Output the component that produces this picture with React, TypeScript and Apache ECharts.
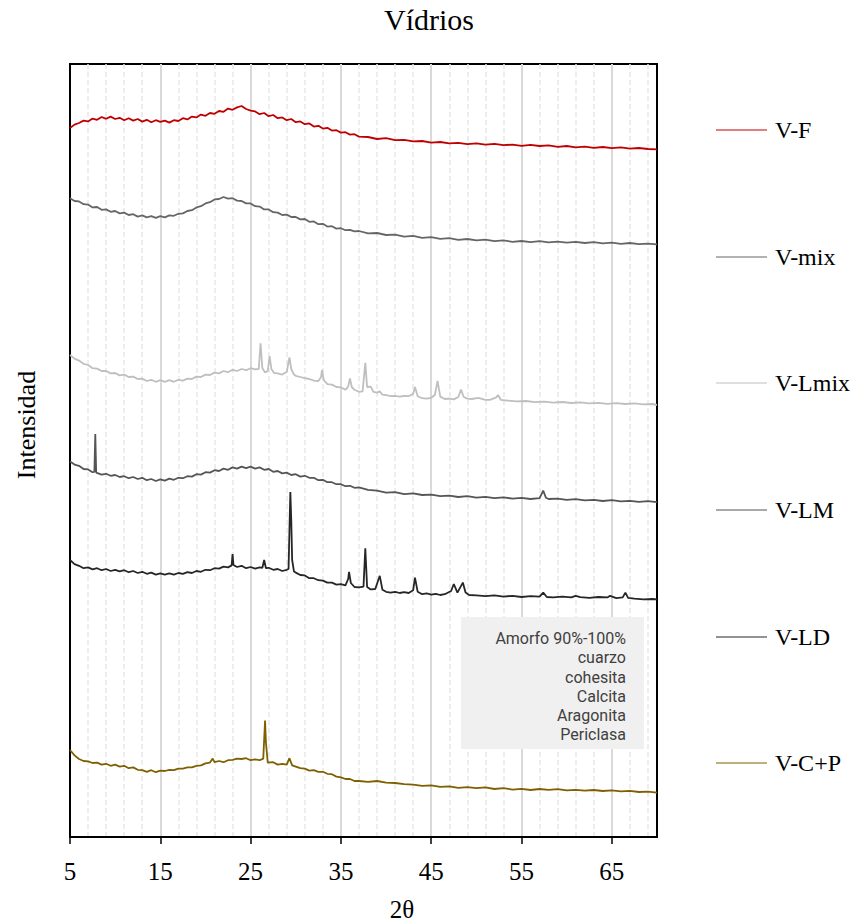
import React, { useEffect, useRef } from "react";
import * as echarts from "echarts";

// Diffractograms (2θ, counts), stacked with a vertical offset per sample
const SERIES_NAMES = ["V-F", "V-mix", "V-Lmix", "V-LM", "V-LD", "V-C+P"];
const SERIES_COLORS = ["#c00000", "#666666", "#bfbfbf", "#555555", "#262626", "#7f6000"];

const vF: [number, number][] = [
  [5, 3545], [5.5, 3562], [6, 3570], [6.5, 3582], [7, 3578], [7.5, 3592], [8, 3586], [8.5, 3600], [9, 3591], [9.5, 3602],
  [10, 3590], [10.5, 3596], [11, 3584], [11.5, 3594], [12, 3582], [12.5, 3590], [13, 3577], [13.5, 3586], [14, 3574], [14.5, 3584],
  [15, 3576], [15.5, 3582], [16, 3572], [16.5, 3584], [17, 3580], [17.5, 3594], [18, 3588], [18.5, 3602], [19, 3598], [19.5, 3612],
  [20, 3606], [20.5, 3620], [21, 3616], [21.5, 3630], [22, 3626], [22.5, 3642], [23, 3636], [23.5, 3648], [24, 3655], [24.5, 3640],
  [25, 3632], [25.5, 3628], [26, 3614], [26.5, 3620], [27, 3604], [27.5, 3610], [28, 3594], [28.5, 3598], [29, 3584], [29.5, 3590],
  [30, 3574], [30.5, 3578], [31, 3564], [31.5, 3568], [32, 3552], [32.5, 3556], [33, 3542], [33.5, 3546], [34, 3532], [34.5, 3534],
  [35, 3522], [35.5, 3524], [36, 3512], [36.5, 3514], [37, 3502], [38, 3500], [39, 3490], [40, 3494], [41, 3484], [42, 3486],
  [43, 3478], [44, 3480], [45, 3472], [46, 3475], [47, 3468], [48, 3471], [49, 3464], [50, 3468], [51, 3462], [52, 3466],
  [53, 3459], [54, 3462], [55, 3456], [56, 3461], [57, 3455], [58, 3458], [59, 3451], [60, 3455], [61, 3448], [62, 3452],
  [63, 3446], [64, 3450], [65, 3444], [66, 3448], [67, 3442], [68, 3445], [69, 3440], [70, 3438],
];

const vMix: [number, number][] = [
  [5, 3194], [5.5, 3180], [6, 3178], [6.5, 3164], [7, 3162], [7.5, 3148], [8, 3150], [8.5, 3136], [9, 3138], [9.5, 3126],
  [10, 3130], [10.5, 3118], [11, 3122], [11.5, 3110], [12, 3114], [12.5, 3102], [13, 3108], [13.5, 3098], [14, 3104], [14.5, 3096],
  [15, 3104], [15.5, 3098], [16, 3108], [16.5, 3106], [17, 3116], [17.5, 3118], [18, 3130], [18.5, 3134], [19, 3148], [19.5, 3154],
  [20, 3168], [20.5, 3174], [21, 3188], [21.5, 3190], [22, 3200], [22.5, 3192], [23, 3194], [23.5, 3182], [24, 3180], [24.5, 3168],
  [25, 3168], [25.5, 3154], [26, 3152], [26.5, 3138], [27, 3138], [27.5, 3124], [28, 3122], [28.5, 3110], [29, 3112], [29.5, 3100],
  [30, 3100], [30.5, 3088], [31, 3090], [31.5, 3076], [32, 3078], [32.5, 3064], [33, 3066], [33.5, 3052], [34, 3054], [34.5, 3042],
  [35, 3044], [35.5, 3034], [36, 3036], [36.5, 3028], [37, 3030], [38, 3018], [39, 3020], [40, 3010], [41, 3012], [42, 3002],
  [43, 3006], [44, 2996], [45, 2999], [46, 2991], [47, 2994], [48, 2986], [49, 2990], [50, 2983], [51, 2987], [52, 2979],
  [53, 2983], [54, 2976], [55, 2980], [56, 2974], [57, 2979], [58, 2973], [59, 2977], [60, 2972], [61, 2976], [62, 2970],
  [63, 2974], [64, 2968], [65, 2972], [66, 2966], [67, 2970], [68, 2964], [69, 2967], [70, 2963],
];

const vLmix: [number, number][] = [
  [5, 2410], [5.5, 2392], [6, 2382], [6.5, 2366], [7, 2360], [7.5, 2344], [8, 2342], [8.5, 2330], [9, 2330], [9.5, 2318],
  [10, 2320], [10.5, 2308], [11, 2312], [11.5, 2300], [12, 2302], [12.5, 2290], [13, 2292], [13.5, 2280], [14, 2286], [14.5, 2276],
  [15, 2284], [15.5, 2276], [16, 2284], [16.5, 2276], [17, 2286], [17.5, 2282], [18, 2292], [18.5, 2290], [19, 2302], [19.5, 2300],
  [20, 2312], [20.5, 2310], [21, 2322], [21.5, 2318], [22, 2330], [22.5, 2324], [23, 2336], [23.5, 2330], [24, 2340], [24.5, 2334],
  [25, 2344], [25.5, 2338], [25.9, 2340], [26.1, 2468], [26.3, 2345], [26.6, 2322], [26.9, 2330], [27.1, 2405], [27.3, 2340], [27.6, 2320],
  [28, 2318], [28.5, 2312], [29, 2326], [29.3, 2398], [29.5, 2340], [29.8, 2312], [30, 2306], [30.5, 2300], [31, 2294], [31.5, 2290],
  [32, 2282], [32.5, 2280], [32.8, 2300], [32.9, 2335], [33.1, 2285], [33.5, 2264], [34, 2262], [34.5, 2250], [35, 2248], [35.5, 2236],
  [35.8, 2252], [36, 2293], [36.2, 2250], [36.5, 2236], [37, 2226], [37.4, 2228], [37.7, 2371], [37.9, 2250], [38.3, 2252], [38.6, 2226],
  [39, 2222], [39.3, 2228], [39.6, 2212], [40, 2210], [40.5, 2204], [41, 2206], [41.5, 2202], [42, 2206], [42.5, 2204], [43, 2216],
  [43.2, 2250], [43.5, 2204], [44, 2194], [44.5, 2192], [45, 2196], [45.4, 2210], [45.7, 2280], [46, 2202], [46.5, 2190], [47, 2192],
  [47.5, 2188], [48, 2200], [48.3, 2237], [48.6, 2200], [49, 2192], [49.5, 2190], [50.2, 2196], [51, 2186], [51.5, 2186], [52.2, 2198],
  [52.4, 2210], [52.7, 2186], [53.5, 2182], [54.5, 2178], [55.5, 2180], [56.5, 2174], [57.5, 2177], [58.5, 2172], [59.5, 2175], [60.5, 2170],
  [61.5, 2173], [62.5, 2168], [63.5, 2171], [64.5, 2166], [65.5, 2169], [66.5, 2165], [67.5, 2168], [68.5, 2163], [69.5, 2165], [70, 2160],
];

const vLM: [number, number][] = [
  [5, 1877], [5.5, 1862], [6, 1856], [6.5, 1840], [7, 1838], [7.5, 1824], [7.7, 1826], [7.8, 2015], [7.9, 1822], [8.5, 1812],
  [9, 1816], [9.5, 1806], [10, 1810], [10.5, 1800], [11, 1804], [11.5, 1794], [12, 1800], [12.5, 1790], [13, 1796], [13.5, 1784],
  [14, 1790], [14.5, 1780], [15, 1788], [15.5, 1782], [16, 1792], [16.5, 1786], [17, 1796], [17.5, 1794], [18, 1804], [18.5, 1802],
  [19, 1814], [19.5, 1812], [20, 1824], [20.5, 1822], [21, 1834], [21.5, 1830], [22, 1842], [22.5, 1836], [23, 1848], [23.5, 1842],
  [24, 1852], [24.5, 1844], [25, 1852], [25.5, 1842], [26, 1848], [26.5, 1836], [27, 1840], [27.5, 1826], [28, 1830], [28.5, 1818],
  [29, 1822], [29.5, 1810], [30, 1814], [30.5, 1802], [31, 1806], [31.5, 1796], [32, 1796], [32.5, 1784], [33, 1786], [33.5, 1774],
  [34, 1774], [34.5, 1764], [35, 1764], [35.5, 1754], [36, 1756], [36.5, 1746], [37, 1748], [38, 1736], [39, 1732], [40, 1722],
  [41, 1724], [42, 1714], [43, 1718], [44, 1710], [45, 1712], [46, 1704], [47, 1707], [48, 1700], [49, 1704], [50, 1697],
  [51, 1701], [52, 1694], [53, 1698], [54, 1692], [55, 1696], [56, 1690], [57, 1694], [57.4, 1732], [57.7, 1696], [58, 1690],
  [59, 1692], [60, 1686], [61, 1689], [62, 1683], [63, 1686], [64, 1680], [65, 1684], [66, 1678], [67, 1681], [68, 1676],
  [69, 1679], [70, 1674],
];

const vLD: [number, number][] = [
  [5, 1385], [5.5, 1364], [6, 1356], [6.5, 1344], [7, 1348], [7.5, 1338], [8, 1344], [8.5, 1334], [9, 1340], [9.5, 1330],
  [10, 1336], [10.5, 1328], [11, 1334], [11.5, 1324], [12, 1330], [12.5, 1320], [13, 1326], [13.5, 1316], [14, 1322], [14.5, 1312],
  [15, 1318], [15.5, 1312], [16, 1318], [16.5, 1312], [17, 1320], [17.5, 1316], [18, 1324], [18.5, 1320], [19, 1330], [19.5, 1326],
  [20, 1336], [20.5, 1334], [21, 1344], [21.5, 1342], [22, 1352], [22.5, 1348], [22.9, 1358], [23, 1415], [23.1, 1360], [23.5, 1350],
  [24, 1356], [24.5, 1344], [25, 1350], [25.5, 1342], [26, 1348], [26.3, 1346], [26.5, 1385], [26.7, 1344], [27, 1346], [27.5, 1336],
  [28, 1340], [28.5, 1330], [29, 1336], [29.2, 1340], [29.3, 1535], [29.4, 1725], [29.5, 1585], [29.6, 1385], [29.8, 1328], [30, 1322],
  [30.5, 1310], [31, 1308], [31.5, 1294], [32, 1294], [32.5, 1284], [33, 1282], [33.5, 1272], [34, 1272], [34.5, 1262], [35, 1264],
  [35.5, 1258], [35.8, 1290], [35.9, 1326], [36.1, 1270], [36.5, 1250], [37, 1248], [37.5, 1252], [37.7, 1443], [37.9, 1250], [38.3, 1238],
  [38.8, 1240], [39.3, 1306], [39.6, 1236], [40, 1226], [40.5, 1222], [41, 1226], [41.5, 1220], [42, 1224], [42.5, 1220], [43, 1234],
  [43.2, 1297], [43.5, 1226], [44, 1214], [44.5, 1218], [45, 1212], [45.5, 1216], [46, 1210], [46.5, 1214], [47.2, 1230], [47.5, 1265],
  [47.9, 1222], [48.5, 1272], [48.8, 1222], [49.2, 1210], [50, 1208], [51, 1204], [52, 1208], [53, 1202], [54, 1206], [55, 1200],
  [56, 1204], [57, 1202], [57.4, 1222], [57.8, 1200], [58.5, 1198], [59.5, 1202], [60.5, 1198], [61, 1206], [61.5, 1199], [62.5, 1196],
  [63.5, 1200], [64.5, 1198], [64.8, 1206], [65.5, 1194], [66.2, 1198], [66.5, 1222], [66.8, 1196], [67.5, 1192], [68.5, 1188], [69.5, 1190],
  [70, 1188],
];

const vCP: [number, number][] = [
  [5, 435], [5.5, 408], [6, 390], [6.5, 380], [7, 378], [7.5, 370], [8, 372], [8.5, 362], [9, 366], [9.5, 356],
  [10, 362], [10.5, 352], [11, 356], [11.5, 344], [12, 348], [12.5, 336], [13, 334], [13.5, 326], [14, 334], [14.5, 324],
  [15, 332], [15.5, 330], [16, 336], [16.5, 334], [17, 342], [17.5, 342], [18, 348], [18.5, 348], [19, 356], [19.5, 358],
  [20, 368], [20.5, 372], [20.8, 392], [21, 374], [21.5, 380], [22, 374], [22.5, 384], [23, 386], [23.5, 392], [24, 390],
  [24.5, 394], [25, 384], [25.5, 388], [26, 384], [26.4, 392], [26.6, 582], [26.7, 470], [26.9, 372], [27.5, 374], [28, 362],
  [28.5, 366], [29, 362], [29.3, 394], [29.6, 358], [30, 352], [30.5, 344], [31, 342], [31.5, 332], [32, 334], [32.5, 326],
  [33, 326], [33.5, 316], [34, 314], [34.5, 302], [35, 298], [35.5, 290], [36, 290], [36.5, 280], [37, 280], [38, 276],
  [39, 280], [40, 272], [41, 270], [42, 264], [43, 262], [44, 256], [45, 258], [46, 251], [47, 253], [48, 246],
  [49, 249], [50, 244], [51, 248], [52, 240], [53, 244], [54, 237], [55, 241], [56, 235], [57, 240], [58, 236],
  [59, 239], [60, 233], [61, 236], [62, 232], [63, 235], [64, 230], [65, 233], [66, 228], [67, 231], [68, 225],
  [69, 227], [70, 222],
];

const SERIES_DATA = [vF, vMix, vLmix, vLM, vLD, vCP];

const X_TICKS = [5, 15, 25, 35, 45, 55, 65];
const PHASES = ["Amorfo 90%-100%", "cuarzo", "cohesita", "Calcita", "Aragonita", "Periclasa"];

const SERIF = "'Liberation Serif', 'Times New Roman', serif";
const LEGEND_TOPS = [130, 257, 383, 510, 637, 763];

export default function App() {
  const ref = useRef<HTMLDivElement>(null);

  useEffect(() => {
    if (!ref.current) return;
    const chart = echarts.init(ref.current, undefined, { renderer: "svg" });

    const frameAxis = { show: true, lineStyle: { color: "#000", width: 2 } };

    const option: any = {
      animation: false,
      backgroundColor: "#ffffff",
      title: {
        text: "Vídrios",
        left: "center",
        top: 4,
        padding: 0,
        textStyle: { fontFamily: SERIF, fontSize: 30, fontWeight: "normal", color: "#000" },
      },
      grid: {
        left: 70,
        top: 64,
        width: 587,
        height: 773,
        show: true,
        borderColor: "#000",
        borderWidth: 2,
        backgroundColor: "transparent",
      },
      legend: SERIES_NAMES.map((name, i) => ({
        data: [name],
        left: 716,
        top: LEGEND_TOPS[i] - 12,
        orient: "vertical",
        icon: "rect",
        itemWidth: 51,
        itemHeight: 1.2,
        padding: 0,
        selectedMode: false,
        textStyle: { fontFamily: SERIF, fontSize: 24, lineHeight: 24, color: "#000", padding: [0, 0, 0, 3] },
      })),
      xAxis: [
        {
          // minor grid every 2°
          type: "value",
          min: 5,
          max: 70,
          interval: 2,
          position: "top",
          axisLine: frameAxis,
          axisTick: { show: false },
          axisLabel: { show: false },
          splitLine: {
            show: true,
            showMinLine: false,
            showMaxLine: false,
            lineStyle: { color: "#e8e8e8", width: 1.5, type: [5, 3] },
          },
        },
        {
          type: "value",
          min: 5,
          max: 70,
          interval: 10,
          position: "bottom",
          axisLine: frameAxis,
          axisTick: { show: true, length: 7, customValues: X_TICKS, lineStyle: { color: "#000", width: 1.5 } },
          axisLabel: {
            show: true,
            customValues: X_TICKS,
            margin: 22,
            fontFamily: SERIF,
            fontSize: 25,
            color: "#000",
          },
          splitLine: {
            show: true,
            lineStyle: { color: "#d9d9d9", width: 2 },
          },
        },
      ],
      yAxis: [
        {
          type: "value",
          min: 0,
          max: 3865,
          position: "left",
          axisLine: frameAxis,
          axisTick: { show: false },
          axisLabel: { show: false },
          splitLine: { show: false },
        },
        {
          type: "value",
          min: 0,
          max: 3865,
          position: "right",
          axisLine: frameAxis,
          axisTick: { show: false },
          axisLabel: { show: false },
          splitLine: { show: false },
        },
      ],
      series: SERIES_NAMES.map((name, i) => ({
        name,
        type: "line",
        xAxisIndex: 1,
        yAxisIndex: 0,
        data: SERIES_DATA[i],
        showSymbol: false,
        symbol: "none",
        smooth: false,
        lineStyle: { color: SERIES_COLORS[i], width: 1.8 },
        itemStyle: { color: SERIES_COLORS[i] },
        emphasis: { disabled: true },
      })),
      graphic: [
        {
          type: "text",
          x: 26,
          y: 425,
          rotation: Math.PI / 2,
          style: {
            text: "Intensidad",
            font: `26px ${SERIF}`,
            fill: "#000",
            textAlign: "center",
            textVerticalAlign: "middle",
            align: "center",
            verticalAlign: "middle",
          },
        },
        {
          type: "text",
          x: 402,
          y: 909,
          style: {
            text: "2θ",
            font: `25px ${SERIF}`,
            fill: "#000",
            textAlign: "center",
            textVerticalAlign: "middle",
            align: "center",
            verticalAlign: "middle",
          },
        },
        {
          type: "rect",
          shape: { x: 461, y: 617, width: 183, height: 132 },
          style: { fill: "#f0f0f0" },
          z: 10,
        },
        {
          type: "text",
          x: 626,
          y: 629,
          z: 11,
          style: {
            text: PHASES.join("\n"),
            font: "16px Roboto, 'Noto Sans', sans-serif",
            lineHeight: 19.2,
            fill: "#404040",
            textAlign: "right",
            textVerticalAlign: "top",
            align: "right",
            verticalAlign: "top",
          },
        },
      ],
    };

    chart.setOption(option);
    return () => chart.dispose();
  }, []);

  return (
    <div
      ref={ref}
      style={{ position: "fixed", left: 0, top: 0, width: 858, height: 921, background: "#fff" }}
    />
  );
}
